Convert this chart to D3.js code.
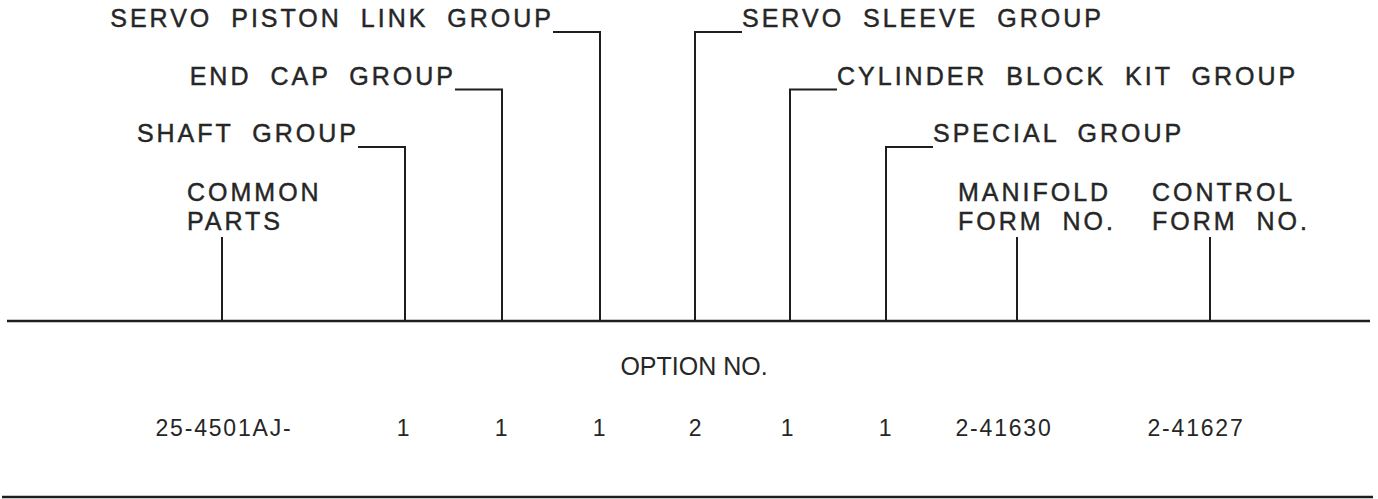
<!DOCTYPE html>
<html>
<head>
<meta charset="utf-8">
<script src="https://cdn.jsdelivr.net/npm/d3@7"></script>
<style>
body { margin: 0; background: #fff; }
text { font-family: "Liberation Sans", Arial, Helvetica, sans-serif; fill: #262626; }
</style>
</head>
<body>
<div class="svg-div"></div>
<script>
// option number columns, left to right
const columns = ["COMMON PARTS", "SHAFT GROUP", "END CAP GROUP", "SERVO PISTON LINK GROUP",
    "SERVO SLEEVE GROUP", "CYLINDER BLOCK KIT GROUP", "SPECIAL GROUP",
    "MANIFOLD FORM NO.", "CONTROL FORM NO."]
const optionValues = ["25-4501AJ-", "1", "1", "1", "2", "1", "1", "2-41630", "2-41627"]
const optionTitle = "OPTION NO."
// group labels hang on three tiers of leaders
const groupTier = {"SHAFT GROUP": 2, "END CAP GROUP": 1, "SERVO PISTON LINK GROUP": 0,
    "SERVO SLEEVE GROUP": 0, "CYLINDER BLOCK KIT GROUP": 1, "SPECIAL GROUP": 2}
// these ones are written on two lines over a short line
const stackedLabels = {"COMMON PARTS": ["COMMON", "PARTS"],
    "MANIFOLD FORM NO.": ["MANIFOLD", "FORM NO."],
    "CONTROL FORM NO.": ["CONTROL", "FORM NO."]}

// layout
const width = 1378, height = 499
const baseY = 321, bottomY = 497
const hook = 47
const spacing = 3
const labelShift = [-35, 0, 0, 0, 0, 0, 0, -59, -58]
const valueShift = [1, -2, -1, -1, 0, -3, -1, -14, -15]

let svg = d3.select(".svg-div").append("svg")
    .attr("width", width)
    .attr("height", height)

let x = d3.scaleOrdinal()
    .domain(columns)
    .range([222, 405, 502, 600, 695, 790, 886, 1017, 1210])

let tierY = d3.scaleLinear().domain([0, 2]).range([32, 147])

// the two long rules
svg.append("line")
    .attr("x1", 7).attr("x2", 1370)
    .attr("y1", baseY).attr("y2", baseY)
    .attr("stroke", "#1e1e1e").attr("stroke-width", 2.5)
svg.append("line")
    .attr("x1", 2).attr("x2", 1373)
    .attr("y1", bottomY).attr("y2", bottomY)
    .attr("stroke", "#1e1e1e").attr("stroke-width", 2.5)

let labelStyle = g => g
    .attr("font-size", 25)
    .attr("letter-spacing", spacing)
    .attr("word-spacing", 9)
    .attr("stroke", "#262626")
    .attr("stroke-width", 0.45)

// group leaders and labels
let groups = columns.filter(c => groupTier[c] !== undefined)
let gGroup = svg.append("g").attr("class", "groups")
gGroup.selectAll("path")
    .data(groups)
    .join("path")
    .attr("fill", "none")
    .attr("stroke", "#1e1e1e")
    .attr("stroke-width", 2)
    .attr("d", d => {
        let left = columns.indexOf(d) < 4
        let y = tierY(groupTier[d])
        return "M" + x(d) + "," + baseY + "V" + y + "H" + (left ? x(d) - hook : x(d) + hook)
    })
gGroup.selectAll("text")
    .data(groups)
    .join("text")
    .call(labelStyle)
    .attr("text-anchor", d => columns.indexOf(d) < 4 ? "end" : "start")
    .attr("x", d => columns.indexOf(d) < 4 ? x(d) - hook - 2 + spacing : x(d) + hook)
    .attr("y", d => tierY(groupTier[d]) - 5)
    .text(d => d)

// stacked labels with their short lines
let stacked = columns.filter(c => stackedLabels[c] !== undefined)
let gStack = svg.append("g").attr("class", "stacked")
gStack.selectAll("line")
    .data(stacked)
    .join("line")
    .attr("x1", d => x(d)).attr("x2", d => x(d))
    .attr("y1", 237).attr("y2", baseY)
    .attr("stroke", "#1e1e1e").attr("stroke-width", 2)
gStack.selectAll("text")
    .data(stacked)
    .join("text")
    .call(labelStyle)
    .attr("x", d => x(d) + labelShift[columns.indexOf(d)])
    .attr("y", 201)
    .selectAll("tspan")
    .data(d => stackedLabels[d].map(t => [d, t]))
    .join("tspan")
    .attr("x", d => x(d[0]) + labelShift[columns.indexOf(d[0])])
    .attr("dy", (d, i) => i === 0 ? 0 : 29)
    .text(d => d[1])

// option number row
svg.append("text")
    .attr("x", 694)
    .attr("y", 375)
    .attr("text-anchor", "middle")
    .attr("font-size", 25)
    .text(optionTitle)

svg.append("g").attr("class", "values")
    .selectAll("text")
    .data(optionValues)
    .join("text")
    .attr("text-anchor", "middle")
    .attr("font-size", 23)
    .attr("letter-spacing", 1.8)
    .attr("x", (d, i) => x(columns[i]) + valueShift[i] + 1)
    .attr("y", 436)
    .text(d => d)
</script>
</body>
</html>
